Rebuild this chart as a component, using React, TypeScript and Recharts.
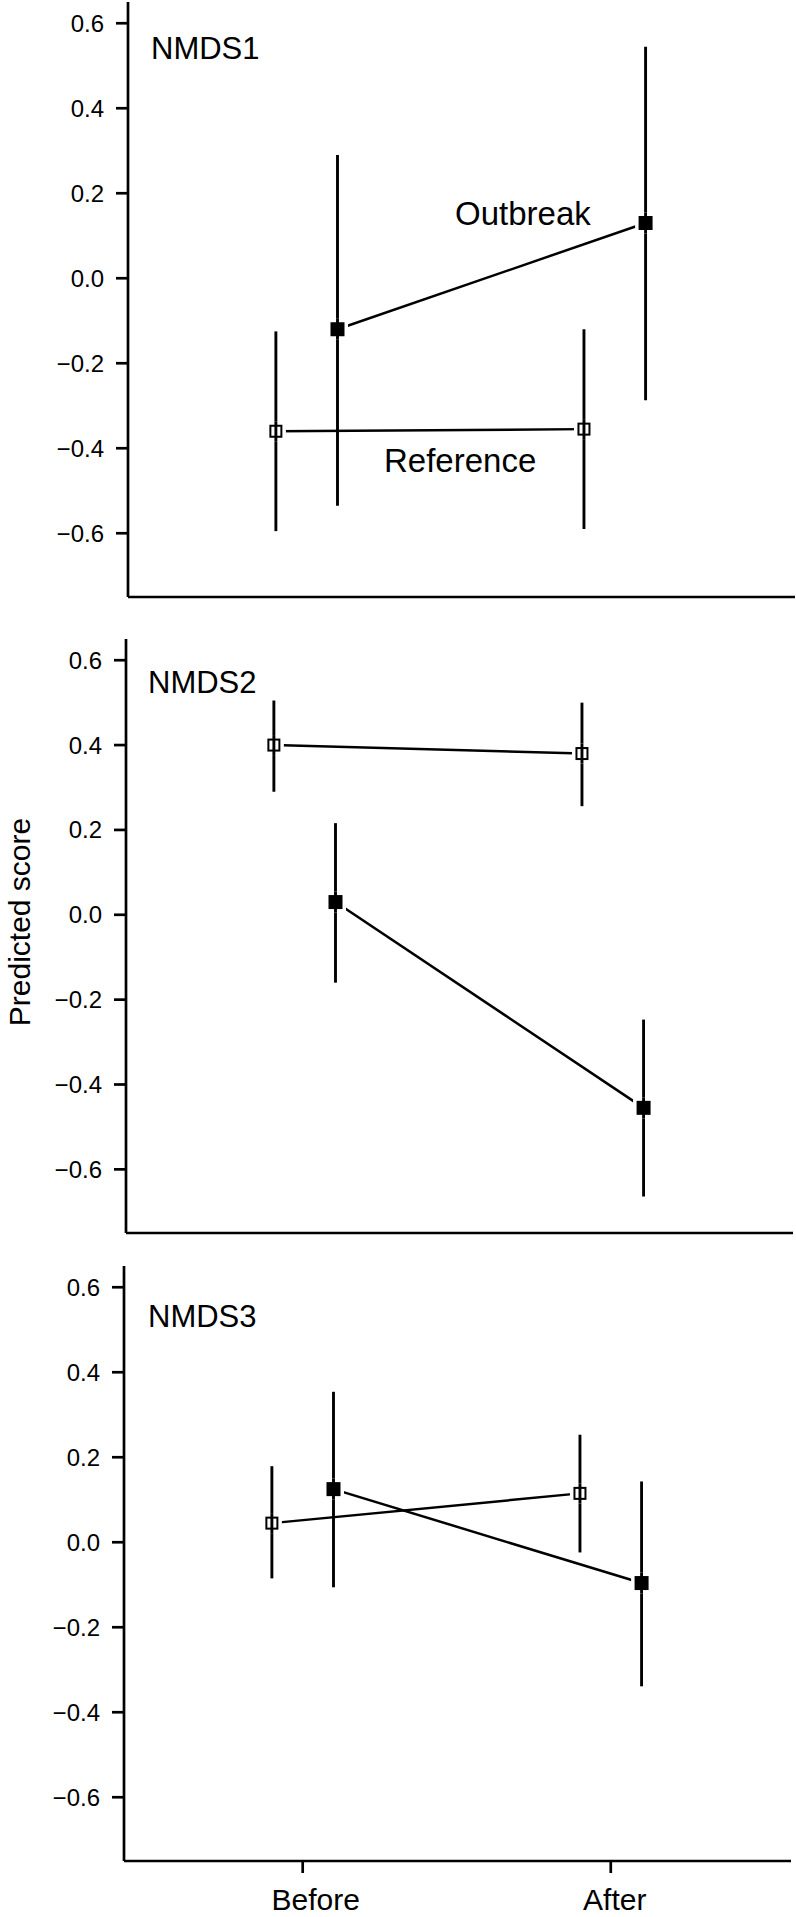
import React from "react";
import { ScatterChart, Scatter, XAxis, YAxis, ErrorBar } from "recharts";

const FONT = "'Liberation Sans', Arial, Helvetica, sans-serif";

const CATEGORIES = ["Before", "After"];
const CAT_X = [1, 2];
const DODGE = 0.1;
const Y_TICKS = [-0.6, -0.4, -0.2, 0, 0.2, 0.4, 0.6];
const PANEL_NAMES = ["NMDS1", "NMDS2", "NMDS3"];

// NMDS1
const nmds1Ref = [-0.36, -0.355];
const nmds1RefLow = [-0.595, -0.59];
const nmds1RefHigh = [-0.125, -0.12];
const nmds1Out = [-0.12, 0.13];
const nmds1OutLow = [-0.535, -0.287];
const nmds1OutHigh = [0.29, 0.545];

// NMDS2
const nmds2Ref = [0.4, 0.38];
const nmds2RefLow = [0.29, 0.256];
const nmds2RefHigh = [0.505, 0.5];
const nmds2Out = [0.03, -0.455];
const nmds2OutLow = [-0.16, -0.664];
const nmds2OutHigh = [0.216, -0.247];

// NMDS3
const nmds3Ref = [0.045, 0.115];
const nmds3RefLow = [-0.085, -0.024];
const nmds3RefHigh = [0.179, 0.253];
const nmds3Out = [0.125, -0.096];
const nmds3OutLow = [-0.106, -0.339];
const nmds3OutHigh = [0.354, 0.143];

const toPoints = (vals: number[], low: number[], high: number[], shift: number) =>
  vals.map((y, i) => ({
    x: CAT_X[i] + shift,
    y,
    err: [y - low[i], high[i] - y],
  }));

// white pad leaves a small gap between the connecting line and the marker
const OpenSquare = (props: any) => {
  const { cx, cy } = props;
  return (
    <g>
      <rect x={cx - 10} y={cy - 10} width={20} height={20} fill="#fff" />
      <line x1={cx} x2={cx} y1={cy - 10} y2={cy + 10} stroke="#000" strokeWidth={2.9} />
      <rect x={cx - 5.5} y={cy - 5.5} width={11} height={11} fill="none" stroke="#000" strokeWidth={2} />
    </g>
  );
};

const FilledSquare = (props: any) => {
  const { cx, cy } = props;
  return (
    <g>
      <rect x={cx - 10.5} y={cy - 10.5} width={21} height={21} fill="#fff" />
      <line x1={cx} x2={cx} y1={cy - 10.5} y2={cy + 10.5} stroke="#000" strokeWidth={2.9} />
      <rect x={cx - 7} y={cy - 7} width={14} height={14} fill="#000" />
    </g>
  );
};

const CategoryTick = (props: any) => {
  const { x, y, index } = props;
  const dx = index === 0 ? 13 : 4;
  return (
    <text x={x + dx} y={y} dy="0.71em" textAnchor="middle" fontSize={30} fontFamily={FONT} fill="#000">
      {CATEGORIES[index]}
    </text>
  );
};

const fmtY = (v: number) => {
  const s = Math.abs(v).toFixed(1);
  return v < -1e-9 ? "\u2212" + s : s;
};

type PanelProps = {
  top: number;
  height: number;
  marginTop: number;
  marginRight: number;
  yWidth: number;
  xHeight: number;
  showLabels: boolean;
  reference: any[];
  outbreak: any[];
};

function Panel(p: PanelProps) {
  const axisStroke = { stroke: "#000", strokeWidth: 2.7 };
  return (
    <div style={{ position: "absolute", left: 0, top: p.top }}>
      <ScatterChart
        width={796}
        height={p.height}
        margin={{ top: p.marginTop, right: p.marginRight, bottom: 0, left: 0 }}
      >
        <XAxis
          type="number"
          dataKey="x"
          domain={[0.42, 2.585]}
          ticks={CAT_X}
          allowDataOverflow
          height={p.xHeight}
          axisLine={axisStroke}
          tickLine={axisStroke}
          tickSize={12}
          tickMargin={16}
          tick={p.showLabels ? <CategoryTick /> : false}
        />
        <YAxis
          type="number"
          dataKey="y"
          domain={[-0.75, 0.65]}
          ticks={Y_TICKS}
          allowDataOverflow
          width={p.yWidth}
          axisLine={axisStroke}
          tickLine={axisStroke}
          tickSize={12}
          tickMargin={12}
          tickFormatter={fmtY}
          tick={{ fill: "#000", fontSize: 24, fontFamily: FONT }}
        />
        <Scatter
          name="Reference"
          data={p.reference}
          line={{ stroke: "#000", strokeWidth: 2.5 }}
          lineJointType="linear"
          shape={<OpenSquare />}
          isAnimationActive={false}
        >
          <ErrorBar dataKey="err" direction="y" width={0} stroke="#000" strokeWidth={2.9} isAnimationActive={false} />
        </Scatter>
        <Scatter
          name="Outbreak"
          data={p.outbreak}
          line={{ stroke: "#000", strokeWidth: 2.5 }}
          lineJointType="linear"
          shape={<FilledSquare />}
          isAnimationActive={false}
        >
          <ErrorBar dataKey="err" direction="y" width={0} stroke="#000" strokeWidth={2.9} isAnimationActive={false} />
        </Scatter>
      </ScatterChart>
    </div>
  );
}

export default function App() {
  const textStyle = { fontFamily: FONT, fill: "#000" };
  return (
    <div style={{ position: "absolute", left: 0, top: 0, width: 796, height: 1917, background: "#fff" }}>
      <Panel
        top={0}
        height={622}
        marginTop={2}
        marginRight={1}
        yWidth={128}
        xHeight={25}
        showLabels={false}
        reference={toPoints(nmds1Ref, nmds1RefLow, nmds1RefHigh, -DODGE)}
        outbreak={toPoints(nmds1Out, nmds1OutLow, nmds1OutHigh, DODGE)}
      />
      <Panel
        top={625}
        height={633}
        marginTop={14}
        marginRight={3}
        yWidth={126}
        xHeight={25}
        showLabels={false}
        reference={toPoints(nmds2Ref, nmds2RefLow, nmds2RefHigh, -DODGE)}
        outbreak={toPoints(nmds2Out, nmds2OutLow, nmds2OutHigh, DODGE)}
      />
      <Panel
        top={1262}
        height={655}
        marginTop={4}
        marginRight={5}
        yWidth={124}
        xHeight={56}
        showLabels={true}
        reference={toPoints(nmds3Ref, nmds3RefLow, nmds3RefHigh, -DODGE)}
        outbreak={toPoints(nmds3Out, nmds3OutLow, nmds3OutHigh, DODGE)}
      />
      <svg
        width={796}
        height={1917}
        style={{ position: "absolute", left: 0, top: 0, pointerEvents: "none" }}
      >
        <text x={151} y={59} fontSize={31} {...textStyle}>{PANEL_NAMES[0]}</text>
        <text x={148} y={693} fontSize={31} {...textStyle}>{PANEL_NAMES[1]}</text>
        <text x={148} y={1327} fontSize={31} {...textStyle}>{PANEL_NAMES[2]}</text>
        <text x={455} y={225} fontSize={33} {...textStyle}>Outbreak</text>
        <text x={384} y={472} fontSize={33} {...textStyle}>Reference</text>
        <text
          transform="translate(30, 922) rotate(-90)"
          textAnchor="middle"
          fontSize={30}
          {...textStyle}
        >
          Predicted score
        </text>
      </svg>
    </div>
  );
}
